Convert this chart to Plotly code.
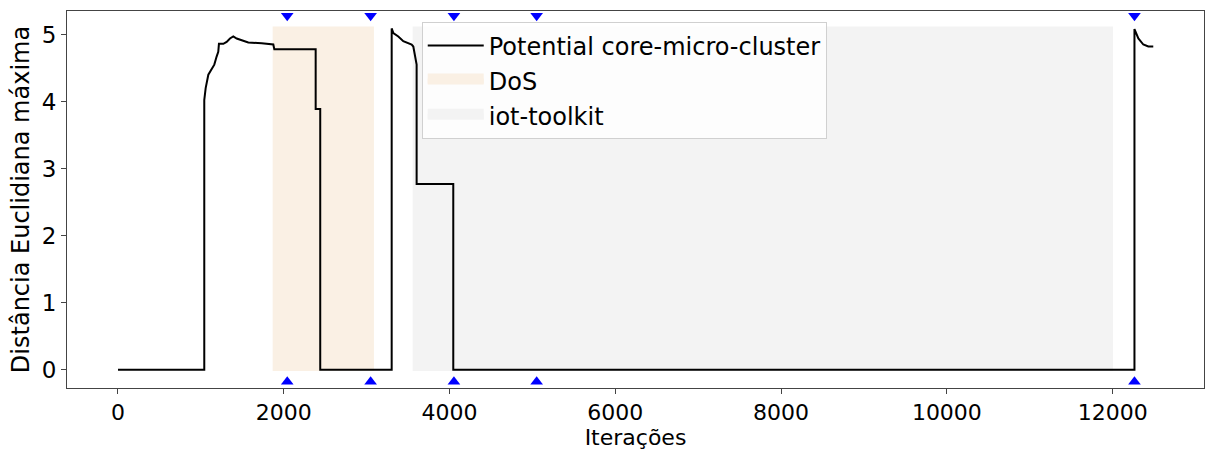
import plotly.graph_objects as go

# ---- data ----
iter_x = [0, 1041, 1041, 1058, 1090, 1130, 1162, 1190, 1210, 1218, 1271, 1311, 1351, 1391, 1432,
          1572, 1734, 1874, 1886, 2385, 2385, 2440, 2440,
          3302, 3302, 3322, 3382, 3442, 3543, 3563, 3595, 3603, 3603, 4045, 4045,
          12263, 12263, 12310, 12370, 12430, 12490]
dist_y = [0, 0, 4.02, 4.20, 4.40, 4.48, 4.55, 4.67, 4.74, 4.86, 4.86, 4.89, 4.94, 4.97, 4.94,
          4.88, 4.87, 4.85, 4.78, 4.78, 3.89, 3.89, 0,
          0, 5.09, 5.02, 4.97, 4.90, 4.85, 4.82, 4.55, 4.55, 2.77, 2.77, 0,
          0, 5.08, 4.94, 4.85, 4.82, 4.82]

span_names = ["DoS", "iot-toolkit"]
span_start = [1866, 3555]
span_end = [3088, 12005]
span_low = -0.02
span_high = 5.12
span_colors = ["#faf0e4", "#f3f3f3"]

change_x = [2042, 3048, 4053, 5051, 12263]
marker_top_y = 5.28
marker_bottom_y = -0.18

x_ticks = [0, 2000, 4000, 6000, 8000, 10000, 12000]
x_tick_labels = ["0", "2000", "4000", "6000", "8000", "10000", "12000"]
y_ticks = [0, 1, 2, 3, 4, 5]

FONT = "DejaVu Sans"
FS = 24
fig = go.Figure()

# shaded regions (drawn first, behind the line)
for i, name in enumerate(span_names):
    x0, x1 = span_start[i], span_end[i]
    fig.add_trace(go.Scatter(
        x=[x0, x1, x1, x0, x0],
        y=[span_low, span_low, span_high, span_high, span_low],
        mode="lines", fill="toself", fillcolor=span_colors[i],
        line=dict(width=0, color=span_colors[i]),
        name=name, showlegend=False, legendgroup=name, hoverinfo="skip"))

fig.add_trace(go.Scatter(
    x=iter_x, y=dist_y, mode="lines",
    line=dict(color="black", width=2),
    name="Potential core-micro-cluster", legendrank=1, legendgroup="line"))

# legend patches for the shaded regions
for i, name in enumerate(span_names):
    fig.add_trace(go.Scatter(
        x=[None], y=[None], mode="lines", fill="toself", fillcolor=span_colors[i],
        line=dict(width=10, color=span_colors[i]),
        name=name, legendrank=2 + i, legendgroup=name))

fig.add_trace(go.Scatter(
    x=change_x, y=[marker_top_y] * len(change_x), mode="markers",
    marker=dict(symbol="triangle-down", size=11, color="#0000ff"),
    showlegend=False, cliponaxis=False))
fig.add_trace(go.Scatter(
    x=change_x, y=[marker_bottom_y] * len(change_x), mode="markers",
    marker=dict(symbol="triangle-up", size=11, color="#0000ff"),
    showlegend=False, cliponaxis=False))

axis_common = dict(showline=True, mirror=True, linecolor="#444", linewidth=1,
                   ticks="outside", ticklen=5, tickcolor="#444", showgrid=False,
                   zeroline=False, tickfont=dict(family=FONT, size=22, color="black"))

fig.update_xaxes(range=[-615, 13102], tickvals=x_ticks, ticktext=x_tick_labels,
                 title=dict(text="Iterações", font=dict(family=FONT, size=22, color="black"), standoff=9),
                 **axis_common)
fig.update_yaxes(range=[-0.273, 5.35], tickvals=y_ticks,
                 tickfont=dict(family=FONT, size=23, color="black"),
                 title=dict(text="Distância Euclidiana máxima", font=dict(family=FONT, size=FS, color="black"), standoff=5),
                 **{k: v for k, v in axis_common.items() if k != "tickfont"})

fig.update_layout(
    width=1206, height=450,
    margin=dict(l=67, r=2, t=11, b=62, autoexpand=False),
    paper_bgcolor="white", plot_bgcolor="white",
    font=dict(family=FONT, size=FS, color="black"),
    legend=dict(x=0.312, y=0.97, xanchor="left", yanchor="top",
                bgcolor="rgba(255,255,255,0.8)", bordercolor="#d0d0d0", borderwidth=1,
                font=dict(family=FONT, size=FS, color="black"),
                itemwidth=56, tracegroupgap=1, traceorder="grouped"),
    showlegend=True,
)

fig.write_html("out.html")
